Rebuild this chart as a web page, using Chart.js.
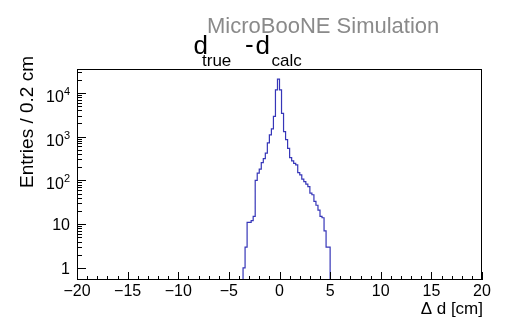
<!DOCTYPE html>
<html>
<head>
<meta charset="utf-8">
<script src="https://cdn.jsdelivr.net/npm/chart.js@4/dist/chart.umd.min.js"></script>
<style>
  html, body { margin: 0; padding: 0; background: #fff; }
  #c { display: block; }
</style>
</head>
<body>
<canvas id="c" width="508" height="319"></canvas>
<script>
// histogram of d_true - d_calc, 0.2 cm bins, only the non-empty range is listed
const binStart = -3.6;
const binWidth = 0.2;
const counts = [
    1, 3, 11, 11, 12, 15, 100, 146, 180, 255,
    315, 420, 720, 1100, 1500, 2900, 11700, 20500, 11700, 3400,
    1300, 850, 540, 330, 280, 245, 225, 150, 134, 107,
    94, 82, 72, 51, 47, 33, 27, 21, 15, 14,
    7, 3, 3
];
const xTicks = [-20, -15, -10, -5, 0, 5, 10, 15, 20];
const yDecades = [1, 10, 100, 1000, 10000];

const FONT = '"Liberation Sans", Arial, Helvetica, sans-serif';
const Y_MIN = 0.53, Y_MAX = 35000;

// step outline: start below the axis, one point per lower bin edge, close below the axis
function buildSteps(){
    const pts = [{ x: binStart, y: Y_MIN / 10 }];
    counts.forEach((c, i) => pts.push({ x: binStart + i * binWidth, y: c }));
    pts.push({ x: binStart + counts.length * binWidth, y: Y_MIN / 10 });
    return pts;
}

function fmtX(v){
    return v < 0 ? '\u2212' + Math.abs(v) : String(v);
}

const frameAndText = {
    id: 'frameAndText',
    afterDraw(chart){
        const ctx = chart.ctx;
        const a = chart.chartArea;
        const xs = chart.scales.x, ys = chart.scales.y;
        ctx.save();

        // frame
        ctx.strokeStyle = '#000';
        ctx.lineWidth = 1;
        ctx.strokeRect(Math.round(a.left) + 0.5, Math.round(a.top) + 0.5,
                       Math.round(a.right - a.left) - 1, Math.round(a.bottom - a.top) - 1);

        // x ticks (inward, ROOT style)
        ctx.beginPath();
        for (let v = -20; v <= 20; v += 1) {
            const px = Math.round(xs.getPixelForValue(v)) + 0.5;
            const len = (v % 5 === 0) ? 8 : 4;
            ctx.moveTo(px, a.bottom);
            ctx.lineTo(px, a.bottom - len);
        }
        // y ticks
        for (let d = 1; d <= 10000; d *= 10) {
            for (let m = 1; m <= 9; m++) {
                const v = d * m;
                if (v < Y_MIN || v > Y_MAX) continue;
                const py = Math.round(ys.getPixelForValue(v)) + 0.5;
                const len = (m === 1) ? 9 : 5;
                ctx.moveTo(a.left, py);
                ctx.lineTo(a.left + len, py);
            }
        }
        ctx.stroke();

        // y labels with exponents
        ctx.fillStyle = '#000';
        ctx.textBaseline = 'alphabetic';
        const right = 70;
        yDecades.forEach(v => {
            const py = ys.getPixelForValue(v);
            const exp = Math.round(Math.log10(v));
            if (exp < 2) {
                ctx.font = '16px ' + FONT;
                ctx.textAlign = 'right';
                ctx.fillText(String(v), right, py + 6);
            } else {
                ctx.font = '11px ' + FONT;
                ctx.textAlign = 'right';
                const ew = ctx.measureText(String(exp)).width;
                ctx.fillText(String(exp), right, py + 2);
                ctx.font = '16px ' + FONT;
                ctx.fillText('10', right - ew, py + 9);
            }
        });

        // axis titles
        ctx.font = '17px ' + FONT;
        ctx.textAlign = 'right';
        ctx.fillText('\u0394 d [cm]', 483, 313.5);

        ctx.save();
        ctx.translate(33, 188);
        ctx.rotate(-Math.PI / 2);
        ctx.font = '19px ' + FONT;
        ctx.textAlign = 'left';
        ctx.fillText('Entries / 0.2 cm', 0, 0);
        ctx.restore();

        // header
        ctx.textAlign = 'left';
        ctx.fillStyle = '#8a8a8a';
        ctx.font = '22px ' + FONT;
        ctx.fillText('MicroBooNE Simulation', 207, 33);

        ctx.fillStyle = '#000';
        ctx.font = '26px ' + FONT;
        ctx.fillText('d', 193.5, 54);
        ctx.fillText('-', 245, 53);
        ctx.fillText('d', 255.5, 54);
        ctx.font = '17px ' + FONT;
        ctx.fillText('true', 202, 66);
        ctx.fillText('calc', 271.5, 66);

        ctx.restore();
    }
};

Chart.defaults.font.family = FONT;
Chart.defaults.color = '#000';

new Chart(document.getElementById('c'), {
    type: 'line',
    data: {
        datasets: [{
            data: buildSteps(),
            borderColor: '#3636b8',
            borderWidth: 1.2,
            pointRadius: 0,
            stepped: 'before',
            fill: false,
            tension: 0
        }]
    },
    options: {
        responsive: false,
        animation: false,
        devicePixelRatio: 1,
        layout: { padding: { left: 0, right: 26, top: 69, bottom: 0 } },
        plugins: { legend: { display: false }, title: { display: false }, tooltip: { enabled: false } },
        scales: {
            x: {
                type: 'linear',
                min: -20,
                max: 20,
                afterBuildTicks: s => { s.ticks = xTicks.map(v => ({ value: v })); },
                afterFit: s => { s.height = 39; },
                ticks: {
                    callback: v => fmtX(v),
                    font: { size: 16 },
                    color: '#000',
                    padding: 2,
                    maxRotation: 0,
                    autoSkip: false
                },
                grid: { display: false, drawTicks: false },
                border: { display: false }
            },
            y: {
                type: 'logarithmic',
                min: Y_MIN,
                max: Y_MAX,
                afterFit: s => { s.width = 77; },
                ticks: { display: false },
                grid: { display: false, drawTicks: false },
                border: { display: false }
            }
        }
    },
    plugins: [frameAndText]
});
</script>
</body>
</html>
